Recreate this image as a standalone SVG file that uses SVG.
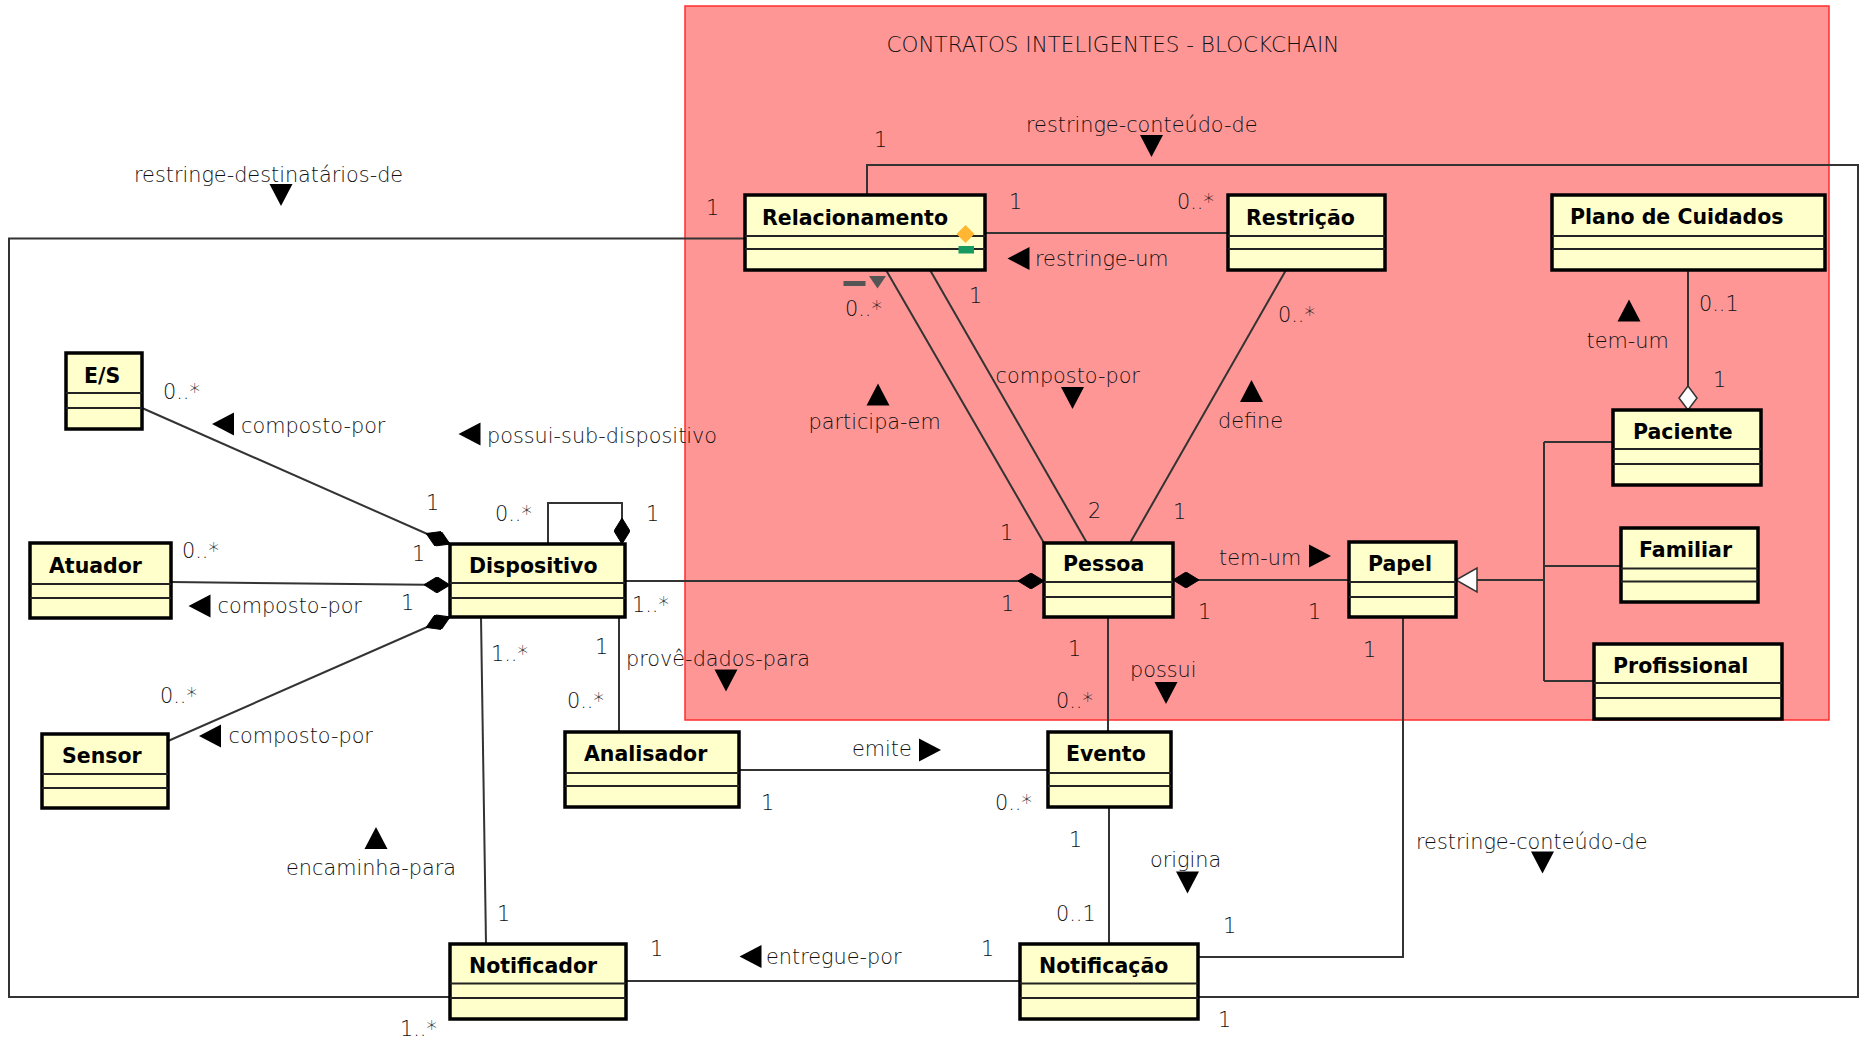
<svg xmlns="http://www.w3.org/2000/svg" xmlns:xlink="http://www.w3.org/1999/xlink" width="1863" height="1043" viewBox="0 0 1863 1043">
  <style>
    .cls rect.frame { fill: #FFFFCC; stroke: #000; stroke-width: 3.5; }
    .cls line { stroke: #222; stroke-width: 2; }
    .cls text { font-family: "DejaVu Sans", "Liberation Sans", sans-serif; font-weight: bold; font-size: 20.5px; fill: #000; }
    .ln { fill: none; stroke: #333; stroke-width: 2; }
    .lbl { font-family: "DejaVu Sans", "Liberation Sans", sans-serif; font-weight: 200; font-size: 20.8px; fill: #111; }
    .tri { fill: #000; }
  </style>
  <defs>
    <!-- composition (filled) and aggregation (hollow) diamonds -->
    <marker id="comp" markerUnits="userSpaceOnUse" viewBox="0 0 26 16" refX="26" refY="8" markerWidth="26" markerHeight="16" orient="auto">
      <path d="M0,8 L13,0 L26,8 L13,16 Z" fill="#000" stroke="#000" stroke-width="1"/>
    </marker>
    <marker id="aggr" markerUnits="userSpaceOnUse" viewBox="-1 -1 26 20" refX="24" refY="9" markerWidth="26" markerHeight="20" orient="auto">
      <path d="M0,9 L12,0 L24,9 L12,18 Z" fill="#fff" stroke="#333" stroke-width="1.5"/>
    </marker>
    <!-- reading-direction triangles for association names -->
    <path id="td" class="tri" d="M-11.5,-11 L11.5,-11 L0,11 Z"/>
    <path id="tu" class="tri" d="M-11.5,11 L11.5,11 L0,-11 Z"/>
    <path id="tl" class="tri" d="M11,-11.5 L11,11.5 L-11,0 Z"/>
    <path id="tr" class="tri" d="M-11,-11.5 L-11,11.5 L11,0 Z"/>
  </defs>

  <rect x="0" y="0" width="1863" height="1043" fill="#fff"/>

  <!-- blockchain package area -->
  <g id="blockchain">
    <rect x="685" y="6" width="1144" height="714" fill="#FF9696" stroke="#FF2E2E" stroke-width="1.5"/>
    <text x="886.5" y="52" font-family="DejaVu Sans, Liberation Sans, sans-serif" font-weight="200" font-size="21.5" fill="#111">CONTRATOS INTELIGENTES - BLOCKCHAIN</text>
  </g>

  <!-- associations -->
  <g id="connectors">
    <path class="ln" d="M745,238.5 H9 V997 H450"/>
    <path class="ln" d="M867,195 V165 H1858 V997 H1198"/>
    <path class="ln" d="M985,233 H1228"/>
    <path class="ln" d="M886,270 L1044,543"/>
    <path class="ln" d="M930,270 L1087,543"/>
    <path class="ln" d="M1286,270 L1130,543"/>
    <path class="ln" d="M625,581 H1044" marker-end="url(#comp)"/>
    <path class="ln" d="M1349,580 H1173" marker-end="url(#comp)"/>
    <path class="ln" d="M1477,580 H1544 M1544,442 V681 M1544,442 H1613 M1544,566 H1621 M1544,681 H1594"/>
    <polygon points="1456,580 1477,568 1477,592" fill="#fff" stroke="#333" stroke-width="1.5"/>
    <path class="ln" d="M1688,270 V410" marker-end="url(#aggr)"/>
    <path class="ln" d="M1108,617 V732"/>
    <path class="ln" d="M1109,807 V944"/>
    <path class="ln" d="M739,770 H1048"/>
    <path class="ln" d="M626,981 H1020"/>
    <path class="ln" d="M1403,618 V957 H1198"/>
    <path class="ln" d="M619,617 V732"/>
    <path class="ln" d="M481,617 L486,944"/>
    <path class="ln" d="M548,544 V503 H622 V544" marker-end="url(#comp)"/>
    <path class="ln" d="M142,408 L450,544" marker-end="url(#comp)"/>
    <path class="ln" d="M171,582 L450,585" marker-end="url(#comp)"/>
    <path class="ln" d="M168,741 L450,617" marker-end="url(#comp)"/>
  </g>

  <!-- classes -->
  <g id="relacionamento" class="cls">
    <rect class="frame" x="745" y="195" width="240" height="75"/>
    <line x1="745" y1="236" x2="985" y2="236"/><line x1="745" y1="249" x2="985" y2="249"/>
    <text x="762" y="225">Relacionamento</text>
    <path d="M965.5,225 L974.5,234 L965.5,243 L956.5,234 Z" fill="#FFB733"/>
    <rect x="958.5" y="246" width="15.5" height="7.5" fill="#169A62"/>
  </g>
  <g id="restricao" class="cls">
    <rect class="frame" x="1228" y="195" width="157" height="75"/>
    <line x1="1228" y1="236" x2="1385" y2="236"/><line x1="1228" y1="249" x2="1385" y2="249"/>
    <text x="1246" y="225">Restrição</text>
  </g>
  <g id="plano-de-cuidados" class="cls">
    <rect class="frame" x="1552" y="195" width="273" height="75"/>
    <line x1="1552" y1="236" x2="1825" y2="236"/><line x1="1552" y1="249" x2="1825" y2="249"/>
    <text x="1570" y="224">Plano de Cuidados</text>
  </g>
  <g id="paciente" class="cls">
    <rect class="frame" x="1613" y="410" width="148" height="75"/>
    <line x1="1613" y1="449" x2="1761" y2="449"/><line x1="1613" y1="464" x2="1761" y2="464"/>
    <text x="1633" y="439">Paciente</text>
  </g>
  <g id="familiar" class="cls">
    <rect class="frame" x="1621" y="528" width="137" height="74"/>
    <line x1="1621" y1="568.5" x2="1758" y2="568.5"/><line x1="1621" y1="581.5" x2="1758" y2="581.5"/>
    <text x="1639" y="557">Familiar</text>
  </g>
  <g id="profissional" class="cls">
    <rect class="frame" x="1594" y="644" width="188" height="75"/>
    <line x1="1594" y1="683" x2="1782" y2="683"/><line x1="1594" y1="698" x2="1782" y2="698"/>
    <text x="1613" y="673">Profissional</text>
  </g>
  <g id="papel" class="cls">
    <rect class="frame" x="1349" y="542" width="107" height="75"/>
    <line x1="1349" y1="582" x2="1456" y2="582"/><line x1="1349" y1="597" x2="1456" y2="597"/>
    <text x="1368" y="571">Papel</text>
  </g>
  <g id="pessoa" class="cls">
    <rect class="frame" x="1044" y="543" width="129" height="74"/>
    <line x1="1044" y1="582" x2="1173" y2="582"/><line x1="1044" y1="597" x2="1173" y2="597"/>
    <text x="1063" y="571">Pessoa</text>
  </g>
  <g id="dispositivo" class="cls">
    <rect class="frame" x="450" y="544" width="175" height="73"/>
    <line x1="450" y1="583" x2="625" y2="583"/><line x1="450" y1="598" x2="625" y2="598"/>
    <text x="469" y="573">Dispositivo</text>
  </g>
  <g id="atuador" class="cls">
    <rect class="frame" x="30" y="543" width="141" height="75"/>
    <line x1="30" y1="584" x2="171" y2="584"/><line x1="30" y1="598" x2="171" y2="598"/>
    <text x="49" y="573">Atuador</text>
  </g>
  <g id="sensor" class="cls">
    <rect class="frame" x="42" y="734" width="126" height="74"/>
    <line x1="42" y1="774" x2="168" y2="774"/><line x1="42" y1="788" x2="168" y2="788"/>
    <text x="62" y="763">Sensor</text>
  </g>
  <g id="es" class="cls">
    <rect class="frame" x="66" y="353" width="76" height="76"/>
    <line x1="66" y1="393" x2="142" y2="393"/><line x1="66" y1="408" x2="142" y2="408"/>
    <text x="84" y="383">E/S</text>
  </g>
  <g id="analisador" class="cls">
    <rect class="frame" x="565" y="732" width="174" height="75"/>
    <line x1="565" y1="773" x2="739" y2="773"/><line x1="565" y1="786" x2="739" y2="786"/>
    <text x="584" y="761">Analisador</text>
  </g>
  <g id="evento" class="cls">
    <rect class="frame" x="1048" y="732" width="123" height="75"/>
    <line x1="1048" y1="773" x2="1171" y2="773"/><line x1="1048" y1="786" x2="1171" y2="786"/>
    <text x="1066" y="761">Evento</text>
  </g>
  <g id="notificador" class="cls">
    <rect class="frame" x="450" y="944" width="176" height="75"/>
    <line x1="450" y1="983.5" x2="626" y2="983.5"/><line x1="450" y1="998" x2="626" y2="998"/>
    <text x="469" y="973">Notificador</text>
  </g>
  <g id="notificacao" class="cls">
    <rect class="frame" x="1020" y="944" width="178" height="75"/>
    <line x1="1020" y1="983.5" x2="1198" y2="983.5"/><line x1="1020" y1="998" x2="1198" y2="998"/>
    <text x="1039" y="973">Notificação</text>
  </g>

  <!-- association names with reading direction -->
  <g id="assoc-names">
    <text class="lbl" x="134" y="182">restringe-destinatários-de</text>
    <use href="#td" x="281" y="195"/>
    <text class="lbl" x="1026" y="132">restringe-conteúdo-de</text>
    <use href="#td" x="1151.5" y="146"/>
    <text class="lbl" x="1035" y="266">restringe-um</text>
    <use href="#tl" x="1018.5" y="258.5"/>
    <text class="lbl" x="808.5" y="429">participa-em</text>
    <use href="#tu" x="878" y="394.5"/>
    <text class="lbl" x="995.5" y="383">composto-por</text>
    <use href="#td" x="1072.5" y="398"/>
    <text class="lbl" x="1218" y="428">define</text>
    <use href="#tu" x="1251.5" y="391"/>
    <text class="lbl" x="1586.5" y="348">tem-um</text>
    <use href="#tu" x="1629" y="310.5"/>
    <text class="lbl" x="241" y="433">composto-por</text>
    <use href="#tl" x="223" y="424"/>
    <text class="lbl" x="487" y="443">possui-sub-dispositivo</text>
    <use href="#tl" x="469.5" y="434"/>
    <text class="lbl" x="217.5" y="613">composto-por</text>
    <use href="#tl" x="199.5" y="606"/>
    <text class="lbl" x="228.5" y="743">composto-por</text>
    <use href="#tl" x="210" y="736"/>
    <text class="lbl" x="1219" y="565">tem-um</text>
    <use href="#tr" x="1320" y="556"/>
    <text class="lbl" x="626" y="666">provê-dados-para</text>
    <use href="#td" x="726" y="680.5"/>
    <text class="lbl" x="1130" y="677">possui</text>
    <use href="#td" x="1166" y="693"/>
    <text class="lbl" x="852" y="756">emite</text>
    <use href="#tr" x="930" y="750"/>
    <text class="lbl" x="286" y="875">encaminha-para</text>
    <use href="#tu" x="376" y="838"/>
    <text class="lbl" x="1150" y="867">origina</text>
    <use href="#td" x="1187.5" y="882.5"/>
    <text class="lbl" x="1416" y="849">restringe-conteúdo-de</text>
    <use href="#td" x="1542.5" y="862.5"/>
    <text class="lbl" x="766" y="964">entregue-por</text>
    <use href="#tl" x="750.5" y="956.5"/>
    <!-- small gray marker under Relacionamento -->
    <rect x="843.5" y="281" width="22" height="5" fill="#555"/>
    <path d="M869,276 L886,276 L877.5,288.5 Z" fill="#555"/>
  </g>

  <!-- multiplicities -->
  <g id="multiplicities" class="lbl">
    <text class="lbl" x="706" y="215">1</text>
    <text class="lbl" x="400" y="1036">1..*</text>
    <text class="lbl" x="874" y="147">1</text>
    <text class="lbl" x="1218" y="1027">1</text>
    <text class="lbl" x="1009" y="209">1</text>
    <text class="lbl" x="1177" y="209">0..*</text>
    <text class="lbl" x="845" y="316">0..*</text>
    <text class="lbl" x="1000" y="540">1</text>
    <text class="lbl" x="969" y="303">1</text>
    <text class="lbl" x="1088" y="518">2</text>
    <text class="lbl" x="1278" y="322">0..*</text>
    <text class="lbl" x="1173" y="519">1</text>
    <text class="lbl" x="632" y="612">1..*</text>
    <text class="lbl" x="1001" y="611">1</text>
    <text class="lbl" x="1198" y="619">1</text>
    <text class="lbl" x="1308" y="619">1</text>
    <text class="lbl" x="1699" y="311">0..1</text>
    <text class="lbl" x="1713" y="387">1</text>
    <text class="lbl" x="1068" y="656">1</text>
    <text class="lbl" x="1056" y="708">0..*</text>
    <text class="lbl" x="1069" y="847">1</text>
    <text class="lbl" x="1056" y="921">0..1</text>
    <text class="lbl" x="761" y="810">1</text>
    <text class="lbl" x="995" y="810">0..*</text>
    <text class="lbl" x="650" y="956">1</text>
    <text class="lbl" x="981" y="956">1</text>
    <text class="lbl" x="1363" y="657">1</text>
    <text class="lbl" x="1223" y="933">1</text>
    <text class="lbl" x="595" y="654">1</text>
    <text class="lbl" x="567" y="708">0..*</text>
    <text class="lbl" x="491" y="661">1..*</text>
    <text class="lbl" x="497" y="921">1</text>
    <text class="lbl" x="495" y="521">0..*</text>
    <text class="lbl" x="646" y="521">1</text>
    <text class="lbl" x="163" y="399">0..*</text>
    <text class="lbl" x="426" y="510">1</text>
    <text class="lbl" x="182" y="558">0..*</text>
    <text class="lbl" x="412" y="561">1</text>
    <text class="lbl" x="160" y="703">0..*</text>
    <text class="lbl" x="401" y="610">1</text>
  </g>
</svg>
